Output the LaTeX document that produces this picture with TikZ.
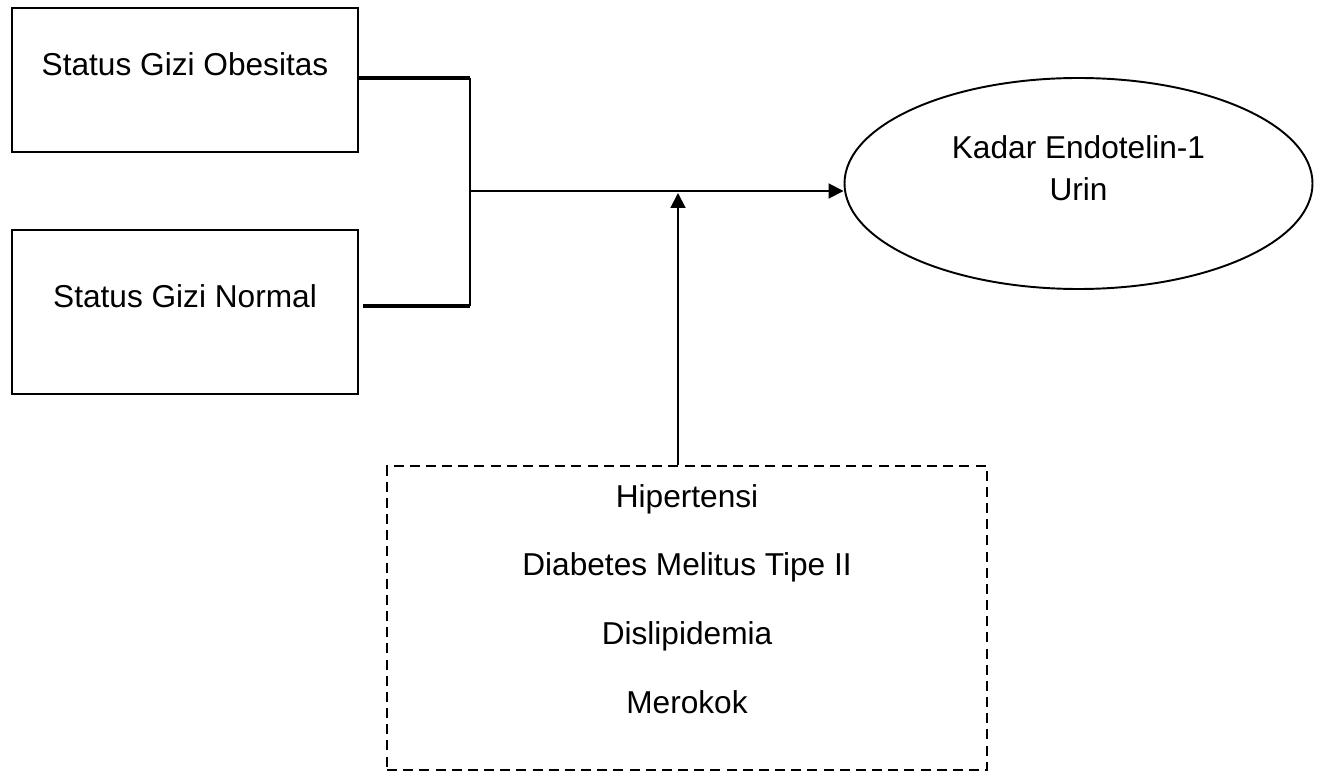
\documentclass[tikz,border=0pt]{standalone}
\usepackage{fontspec}
\setmainfont{Liberation Sans}
\usetikzlibrary{shapes.geometric, arrows.meta, positioning}

\begin{document}
\begin{tikzpicture}[
    status/.style={draw, rectangle, line width=1.1pt, minimum width=6.92cm, inner sep=0pt,
        font=\fontsize{18pt}{22pt}\selectfont, text height=0.3cm, text depth=0.46cm},
    link/.style={line width=1.8pt},
    arr/.style={line width=1.1pt, -{Triangle[length=8.5pt,width=8.5pt]}}]
    \useasboundingbox (0,0) rectangle (26.38,-15.42);

    \node[status, minimum height=2.88cm] (obes) at (3.70,-1.60) {Status Gizi Obesitas};
    \node[status, minimum height=3.28cm, below=1.52cm of obes] (norm) {Status Gizi Normal};

    \node[draw, ellipse, line width=1.1pt, minimum width=9.36cm, minimum height=4.22cm, inner sep=0pt,
        align=center, font=\fontsize{18pt}{24.4pt}\selectfont, text height=0.7cm, text depth=0pt]
        (kadar) at (21.57,-3.67) {Kadar Endotelin-1\\Urin};

    \node[draw, dash pattern=on 5.7pt off 3.5pt, line width=1.1pt, minimum width=12cm, minimum height=6.08cm,
        inner sep=0pt, align=center, font=\fontsize{18pt}{39pt}\selectfont, text height=3.8cm, text depth=0pt]
        (faktor) at (13.74,-12.36) {Hipertensi\\Diabetes Melitus Tipe II\\Dislipidemia\\Merokok};

    \coordinate (bus) at (9.40,-3.82);
    \coordinate (mod) at (13.56,-3.86);

    \draw[link] ([yshift=0.04cm]obes.east) -- ([yshift=0.04cm]obes.east -| bus);
    \draw[link] ([xshift=0.08cm, yshift=0.12cm]norm.east) -- ([yshift=0.12cm]norm.east -| bus);
    \draw[line width=1pt] ([yshift=0.04cm]obes.east -| bus) -- ([yshift=0.12cm]norm.east -| bus);
    \draw[arr] (bus) -- (bus -| kadar.west);
    \draw[arr] (faktor.north -| mod) -- (mod);
\end{tikzpicture}
\end{document}
